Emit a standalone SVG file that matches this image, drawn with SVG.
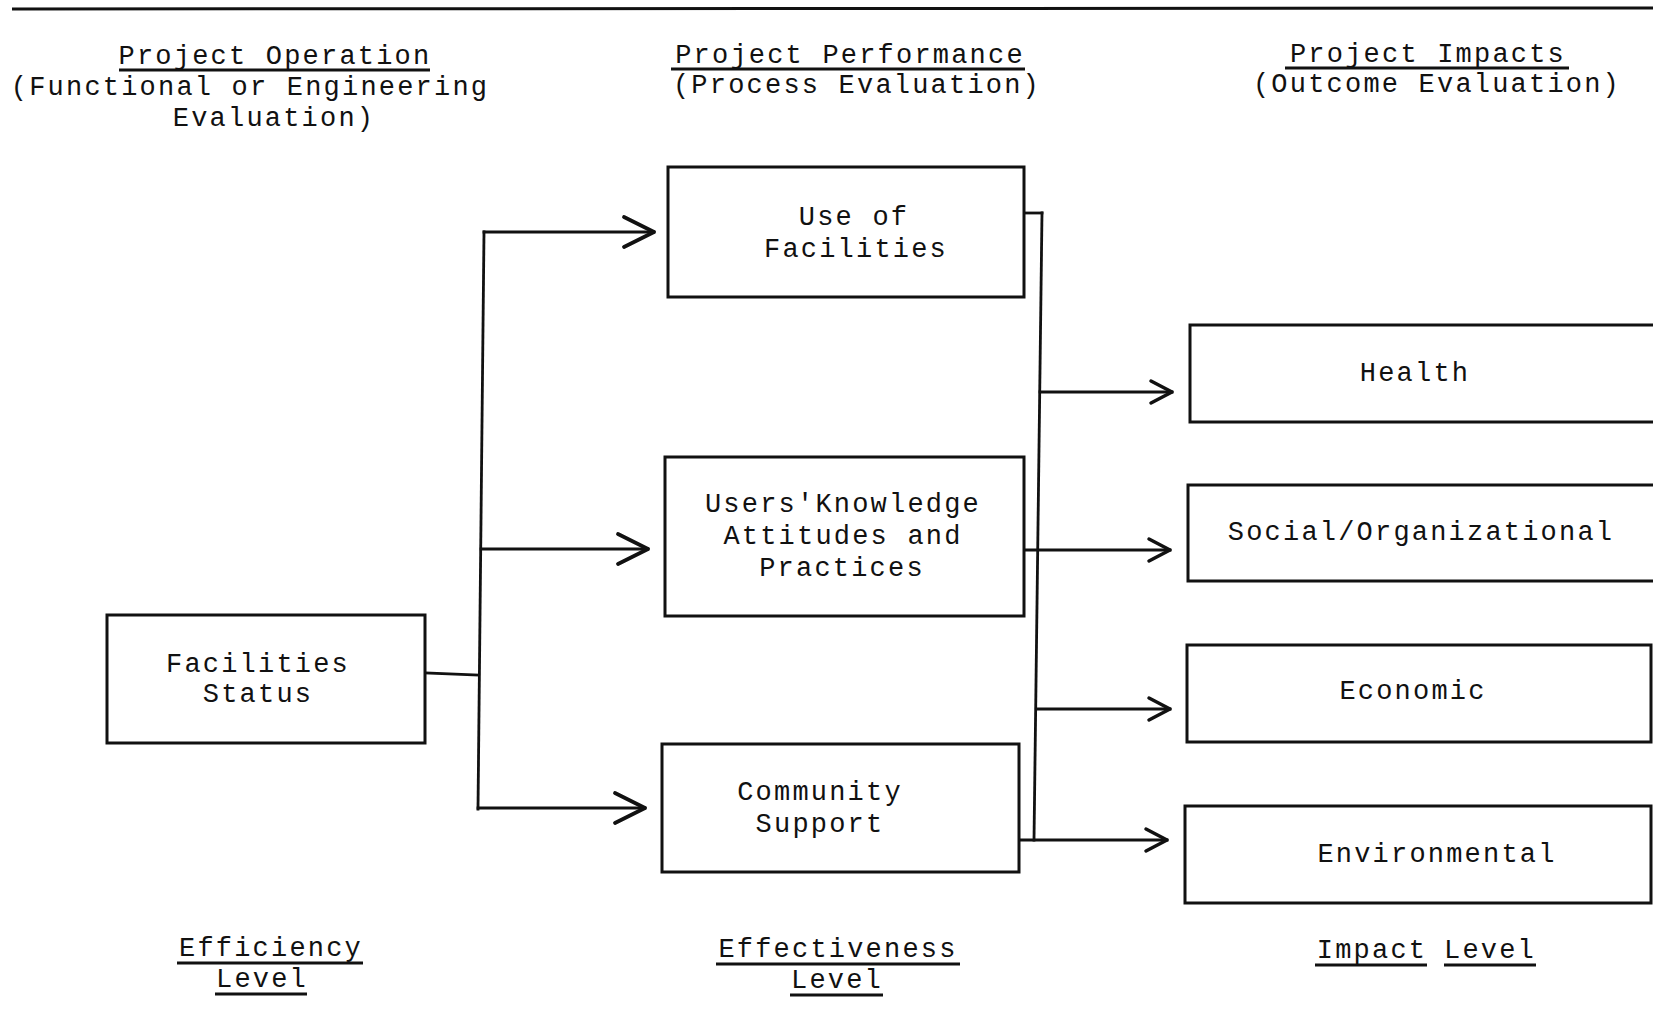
<svg xmlns="http://www.w3.org/2000/svg" width="1653" height="1026" viewBox="0 0 1653 1026">
<style>
.t{font-family:"Liberation Mono","DejaVu Sans Mono",monospace;font-size:27px;letter-spacing:2.2px;fill:#111;text-anchor:middle}
.box{fill:#fff;stroke:#111;stroke-width:3}
.ln{fill:none;stroke:#111;stroke-width:2.8;stroke-linecap:square}
.ul{stroke:#111;stroke-width:3}
</style>
<defs>
<marker id="big" markerUnits="userSpaceOnUse" viewBox="-36 -20 40 40" refX="0" refY="0" markerWidth="40" markerHeight="40" orient="auto">
<path d="M-30,-15 L0,0 L-30,15" fill="none" stroke="#111" stroke-width="3.8" stroke-linecap="round" stroke-linejoin="round"/>
</marker>
<marker id="small" markerUnits="userSpaceOnUse" viewBox="-30 -16 34 32" refX="0" refY="0" markerWidth="34" markerHeight="32" orient="auto">
<path d="M-21,-11 L0,0 L-21,11" fill="none" stroke="#111" stroke-width="3.5" stroke-linecap="round" stroke-linejoin="round"/>
</marker>
</defs>
<rect width="1653" height="1026" fill="#fff"/>
<line x1="12" y1="9" x2="1653" y2="8" stroke="#111" stroke-width="3"/>

<g id="headers">
<text class="t" x="275" y="64">Project Operation</text>
<line class="ul" x1="119" y1="70" x2="430" y2="70"/>
<text class="t" x="250" y="95">(Functional or Engineering</text>
<text class="t" x="274" y="126">Evaluation)</text>
<text class="t" x="850" y="63">Project Performance</text>
<line class="ul" x1="671" y1="69" x2="1025" y2="69"/>
<text class="t" x="857" y="93">(Process Evaluation)</text>
<text class="t" x="1428" y="62">Project Impacts</text>
<line class="ul" x1="1285" y1="68" x2="1569" y2="68"/>
<text class="t" x="1437" y="92">(Outcome Evaluation)</text>
</g>

<g id="connectors">
<line class="ln" x1="425" y1="673" x2="478" y2="675"/>
<line class="ln" x1="484" y1="232" x2="478" y2="809"/>
<line class="ln" x1="484" y1="232" x2="654" y2="232" marker-end="url(#big)"/>
<line class="ln" x1="481" y1="549" x2="648" y2="549" marker-end="url(#big)"/>
<line class="ln" x1="478" y1="808" x2="645" y2="808" marker-end="url(#big)"/>
<line class="ln" x1="1024" y1="213" x2="1042" y2="213"/>
<line class="ln" x1="1042" y1="213" x2="1034" y2="840"/>
<line class="ln" x1="1040" y1="392" x2="1172" y2="392" marker-end="url(#small)"/>
<line class="ln" x1="1024" y1="550" x2="1170" y2="550" marker-end="url(#small)"/>
<line class="ln" x1="1037" y1="709" x2="1170" y2="709" marker-end="url(#small)"/>
<line class="ln" x1="1019" y1="840" x2="1167" y2="840" marker-end="url(#small)"/>
</g>

<g id="n_facilities_status">
<rect class="box" x="107" y="615" width="318" height="128"/>
<text class="t" x="258" y="672">Facilities</text>
<text class="t" x="258" y="702">Status</text>
</g>
<g id="n_use">
<rect class="box" x="668" y="167" width="356" height="130"/>
<text class="t" x="854" y="225">Use of</text>
<text class="t" x="856" y="257">Facilities</text>
</g>
<g id="n_users">
<rect class="box" x="665" y="457" width="359" height="159"/>
<text class="t" x="843" y="512">Users'Knowledge</text>
<text class="t" x="843" y="544">Attitudes and</text>
<text class="t" x="842" y="576">Practices</text>
</g>
<g id="n_community">
<rect class="box" x="662" y="744" width="357" height="128"/>
<text class="t" x="820" y="800">Community</text>
<text class="t" x="820" y="832">Support</text>
</g>
<g id="n_health">
<rect class="box" x="1190" y="325" width="480" height="97"/>
<text class="t" x="1415" y="381">Health</text>
</g>
<g id="n_social">
<rect class="box" x="1188" y="485" width="480" height="96"/>
<text class="t" x="1421" y="540">Social/Organizational</text>
</g>
<g id="n_economic">
<rect class="box" x="1187" y="645" width="464" height="97"/>
<text class="t" x="1413" y="699">Economic</text>
</g>
<g id="n_environmental">
<rect class="box" x="1185" y="806" width="466" height="97"/>
<text class="t" x="1437" y="862">Environmental</text>
</g>

<g id="levels">
<text class="t" x="271" y="956">Efficiency</text>
<line class="ul" x1="177" y1="963" x2="363" y2="963"/>
<text class="t" x="262" y="987">Level</text>
<line class="ul" x1="215" y1="994" x2="307" y2="994"/>
<text class="t" x="838" y="957">Effectiveness</text>
<line class="ul" x1="716" y1="964" x2="960" y2="964"/>
<text class="t" x="837" y="988">Level</text>
<line class="ul" x1="790" y1="995" x2="883" y2="995"/>
<text class="t" x="1372" y="958">Impact</text>
<line class="ul" x1="1315" y1="965" x2="1427" y2="965"/>
<text class="t" x="1490" y="958">Level</text>
<line class="ul" x1="1444" y1="965" x2="1536" y2="965"/>
</g>
</svg>
